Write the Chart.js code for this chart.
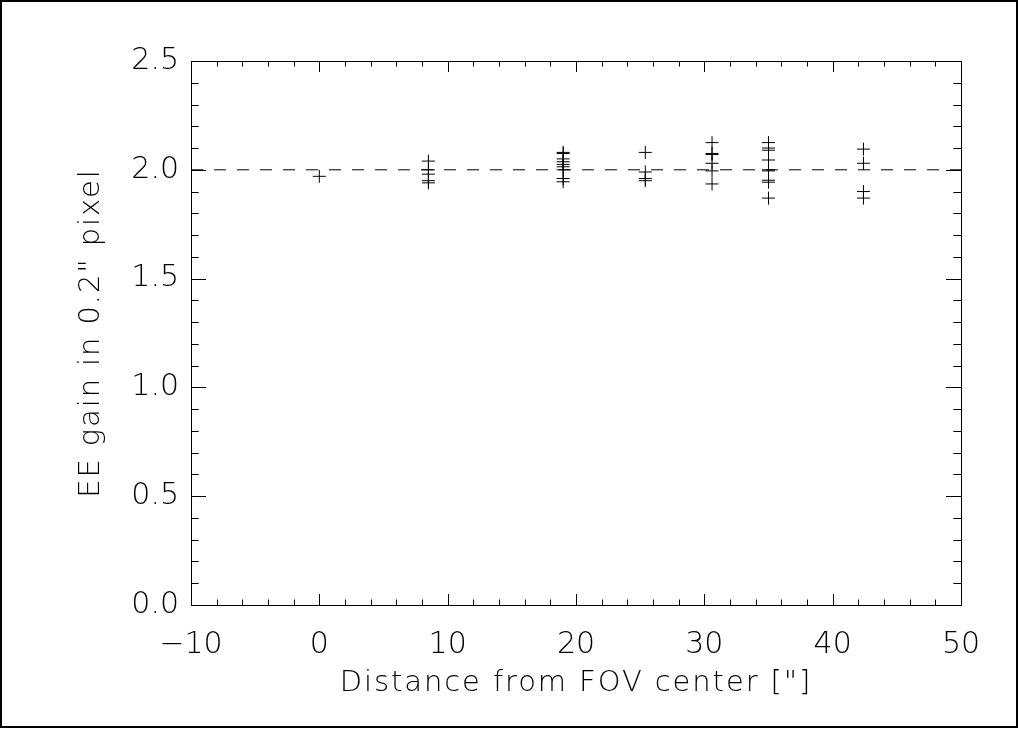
<!DOCTYPE html>
<html>
<head>
<meta charset="utf-8">
<script src="https://cdn.jsdelivr.net/npm/chart.js@4/dist/chart.umd.min.js"></script>
<style>
  html, body { margin: 0; padding: 0; background: #fff; }
  #wrap { width: 1020px; height: 729px; }
</style>
</head>
<body>
<div id="wrap"><canvas id="grafico" width="1020" height="729"></canvas></div>
<script>
// distances from FOV center ["] and the EE gains measured at each of them
const distancias = [0, 8.5, 19.0, 25.4, 30.6, 35.0, 42.4];
const ganhos = [
    [1.97],
    [2.04, 2.00, 1.98, 1.95, 1.94],
    [2.08, 2.075, 2.05, 2.037, 2.025, 2.014, 2.00, 1.96, 1.945],
    [2.08, 1.99, 1.96, 1.95],
    [2.125, 2.075, 2.07, 2.03, 1.995, 1.935],
    [2.125, 2.10, 2.09, 2.045, 2.00, 1.995, 1.952, 1.943, 1.87],
    [2.095, 2.03, 1.90, 1.87]
];
const linhaRef = 2.0;
const xMin = -10, xMax = 50, xPasso = 10, xMenor = 2;
const yMin = 0, yMax = 2.5, yPasso = 0.5, yMenor = 0.1;

const pontos = distancias.flatMap((d, i) => ganhos[i].map(g => ({ x: d, y: g })));

const fonteTicks = { family: "'DejaVu Sans'", size: 30, weight: 200 };
const fonteTitulo = { family: "'DejaVu Sans'", size: 29, weight: 200 };

// wide letter spacing only for the axis titles (drawn before the datasets,
// tick labels are moved to z=1 so they are drawn after)
const espacoPlugin = {
    id: 'espacoTitulos',
    beforeDraw(chart) { chart.ctx.letterSpacing = '1.9px'; },
    beforeDatasetsDraw(chart) { chart.ctx.letterSpacing = '0px'; }
};

// inward tick marks on all four sides + frame round the plot and the page
const ticksPlugin = {
    id: 'ticksDentro',
    afterDraw(chart) {
        const ctx = chart.ctx;
        const a = chart.chartArea;
        const sx = chart.scales.x, sy = chart.scales.y;
        ctx.save();
        ctx.strokeStyle = '#000';
        ctx.lineWidth = 1;
        ctx.beginPath();
        for (let v = xMin; v <= xMax + 1e-9; v += xMenor) {
            const px = Math.round(sx.getPixelForValue(v)) + 0.5;
            const maior = Math.abs(v / xPasso - Math.round(v / xPasso)) < 1e-6;
            const len = maior ? 11 : 5.5;
            ctx.moveTo(px, a.bottom); ctx.lineTo(px, a.bottom - len);
            ctx.moveTo(px, a.top); ctx.lineTo(px, a.top + len);
        }
        for (let v = yMin; v <= yMax + 1e-9; v += yMenor) {
            const py = Math.round(sy.getPixelForValue(v)) + 0.5;
            const maior = Math.abs(v / yPasso - Math.round(v / yPasso)) < 1e-6;
            const len = maior ? 15 : 7.7;
            ctx.moveTo(a.left, py); ctx.lineTo(a.left + len, py);
            ctx.moveTo(a.right, py); ctx.lineTo(a.right - len, py);
        }
        ctx.stroke();
        ctx.strokeRect(Math.round(a.left) + 0.5, Math.round(a.top) + 0.5,
            Math.round(a.right - a.left), Math.round(a.bottom - a.top));
        ctx.lineWidth = 2;
        ctx.strokeRect(1, 1, 1016, 726);
        ctx.restore();
    }
};

new Chart(document.getElementById('grafico'), {
    type: 'scatter',
    data: {
        datasets: [
            {
                label: 'EE gain',
                data: pontos,
                pointStyle: 'cross',
                pointRadius: 6.5,
                pointHoverRadius: 6.5,
                borderColor: '#000',
                borderWidth: 1
            },
            {
                type: 'line',
                label: 'referencia',
                data: [{ x: xMin, y: linhaRef }, { x: xMax, y: linhaRef }],
                borderColor: '#000',
                borderWidth: 1,
                borderDash: [12, 11],
                pointRadius: 0,
                fill: false
            }
        ]
    },
    options: {
        responsive: false,
        animation: false,
        events: [],
        layout: { padding: { left: 0, top: 61, right: 59, bottom: 0 } },
        plugins: { legend: { display: false }, tooltip: { enabled: false } },
        scales: {
            x: {
                type: 'linear',
                min: xMin,
                max: xMax,
                afterFit(scale) { scale.height = 124; },
                border: { display: false },
                grid: { display: false, drawTicks: false },
                ticks: {
                    z: 1,
                    stepSize: xPasso,
                    color: '#000',
                    font: fonteTicks,
                    padding: 22,
                    maxRotation: 0,
                    callback: v => String(v).replace('-', '\u2212')
                },
                title: {
                    display: true,
                    text: 'Distance from FOV center ["]',
                    color: '#000',
                    font: fonteTitulo,
                    padding: { top: 28, bottom: 28 }
                }
            },
            y: {
                type: 'linear',
                min: yMin,
                max: yMax,
                afterFit(scale) { scale.width = 191; },
                border: { display: false },
                grid: { display: false, drawTicks: false },
                ticks: {
                    z: 1,
                    stepSize: yPasso,
                    color: '#000',
                    font: fonteTicks,
                    padding: 12,
                    callback: v => v.toFixed(1)
                },
                title: {
                    display: true,
                    text: 'EE gain in 0.2" pixel',
                    color: '#000',
                    font: fonteTitulo,
                    padding: { top: 74, bottom: 74 }
                }
            }
        }
    },
    plugins: [espacoPlugin, ticksPlugin]
});
</script>
</body>
</html>
